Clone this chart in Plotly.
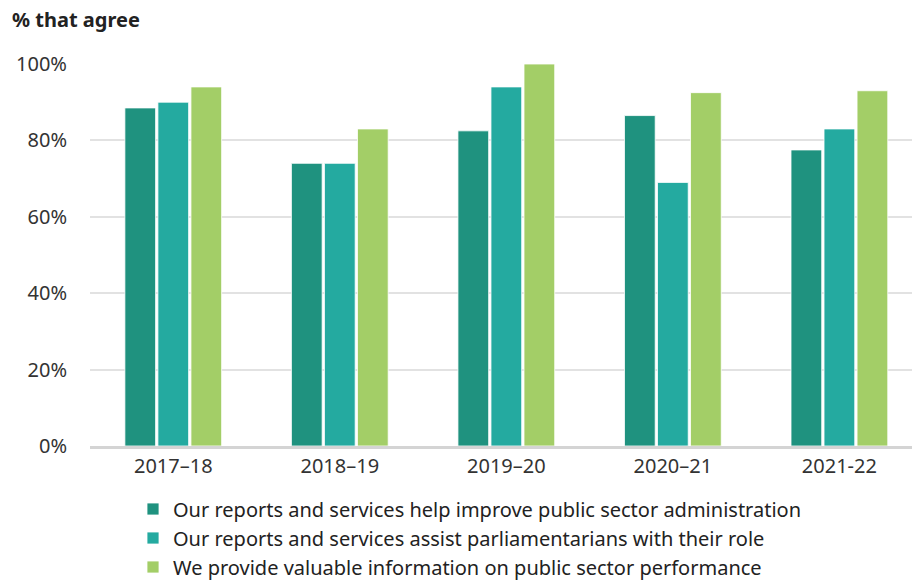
import plotly.graph_objects as go

categories = ["2017–18", "2018–19", "2019–20", "2020–21", "2021-22"]
series_names = [
    "Our reports and services help improve public sector administration",
    "Our reports and services assist parliamentarians with their role",
    "We provide valuable information on public sector performance",
]
improve_admin = [88.5, 74, 82.5, 86.5, 77.5]
assist_parl = [90, 74, 94, 69, 83]
valuable_info = [94, 83, 100, 92.5, 93]
colors = ["#1f927f", "#24aaa0", "#a3ce67"]

fig = go.Figure()
for name, vals, col in zip(series_names, [improve_admin, assist_parl, valuable_info], colors):
    fig.add_trace(go.Bar(
        x=categories, y=vals, name=name,
        marker=dict(color=col, line=dict(color="white", width=0.8)),
    ))

W, H = 912, 583
L, R, T, B = 89.5, 0, 64, 137
pw = W - L - R
ph = H - T - B

fig.update_layout(
    width=W, height=H,
    margin=dict(l=L, r=R, t=T, b=B, pad=0, autoexpand=False),
    paper_bgcolor="white", plot_bgcolor="white",
    barmode="group", bargap=0.405, bargroupgap=0.07,
    font=dict(family="Noto Sans", size=20, color="#333333"),
    showlegend=True,
    legend=dict(
        orientation="v", xref="container", x=133 / W, xanchor="left",
        yref="container", y=1 - 489.5 / H, yanchor="top",
        font=dict(size=20, color="#222222"),
        tracegroupgap=0, itemwidth=30,
        bgcolor="rgba(0,0,0,0)",
    ),
    xaxis=dict(
        range=[-0.5, 4.436],
        showline=True, linecolor="#d4d4d4", linewidth=3,
        showgrid=False, ticks="", tickfont=dict(size=20, color="#333333"),
        fixedrange=True,
    ),
    yaxis=dict(
        range=[0, 100], dtick=20, ticksuffix="%",
        showgrid=True, gridcolor="#e2e2e2", gridwidth=1.5,
        zeroline=False, showline=False,
        ticks="outside", ticklen=18, tickcolor="rgba(0,0,0,0)",
        tickfont=dict(size=20, color="#333333"),
    ),
    annotations=[dict(
        text="<b>% that agree</b>", xref="paper", yref="paper",
        x=(9 - L) / pw, y=1 + (T - 20) / ph, xanchor="left", yanchor="middle",
        showarrow=False, font=dict(size=20, color="#222222"),
    )],
)

fig.write_html("out.html")
